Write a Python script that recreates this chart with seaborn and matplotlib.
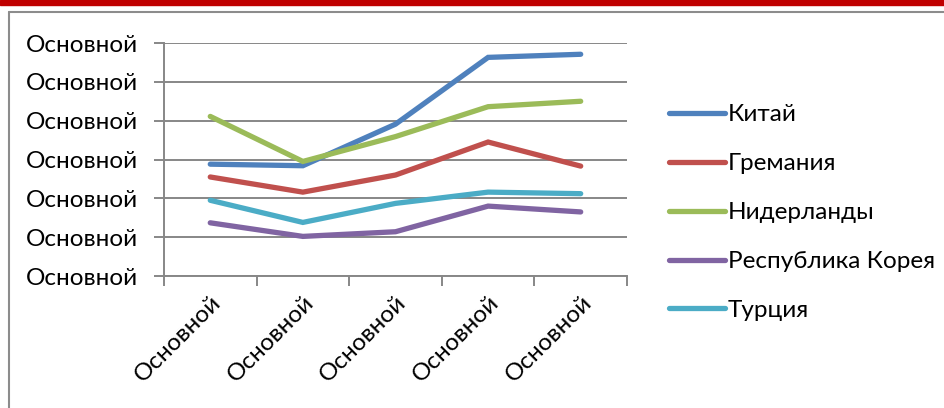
import matplotlib
matplotlib.use("Agg")
import matplotlib.pyplot as plt
import matplotlib.ticker as mticker
from matplotlib.lines import Line2D
from matplotlib.patches import Rectangle
import pandas as pd
import seaborn as sns

# categories on x (all the same label in the source picture)
periods = ["p1", "p2", "p3", "p4", "p5"]
x_label = "Основной"
y_ticks = [0, 1, 2, 3, 4, 5, 6]

countries = ["Китай", "Гремания", "Нидерланды", "Республика Корея", "Турция"]
china = [2.88, 2.84, 3.91, 5.63, 5.71]
germany = [2.55, 2.16, 2.60, 3.45, 2.83]
netherlands = [4.11, 2.95, 3.59, 4.36, 4.50]
korea = [1.37, 1.02, 1.14, 1.80, 1.65]
turkey = [1.95, 1.38, 1.87, 2.16, 2.12]

colors = ["#4F81BD", "#C0504D", "#9BBB59", "#8064A2", "#4BACC6"]

rows = []
for name, vals in zip(countries, [china, germany, netherlands, korea, turkey]):
    for p, v in zip(periods, vals):
        rows.append({"period": p, "value": v, "country": name})
df = pd.DataFrame(rows)

sns.set_style("white")
plt.rcParams["font.family"] = ["Lato", "DejaVu Sans"]
plt.rcParams["text.color"] = "black"
plt.rcParams["xtick.color"] = "black"
plt.rcParams["ytick.color"] = "black"
fs = 17.5

fig = plt.figure(figsize=(9.45, 4.08), dpi=100)
ax = fig.add_axes([0.1735, 0.3235, 0.49, 0.5711])

sns.lineplot(data=df, x="period", y="value", hue="country", hue_order=countries,
             palette=colors, linewidth=3.8, ax=ax, sort=False, legend=True)
for ln in ax.lines:
    ln.set_solid_capstyle("round")
    ln.set_solid_joinstyle("miter")

ax.set_xlim(-0.5, 4.5)
ax.set_ylim(0, 6)
grid_c = "#878787"

# y axis
ax.set_yticks(y_ticks)
ax.set_yticklabels([x_label] * len(y_ticks))
ax.yaxis.grid(True, color=grid_c, linewidth=1.4)
ax.tick_params(axis="y", length=7, width=1.4, color=grid_c, labelcolor="black",
               labelsize=fs, pad=12)

# x axis: ticks at bin edges, labels centred
ax.xaxis.set_major_locator(mticker.FixedLocator([i - 0.5 for i in range(len(periods) + 1)]))
ax.xaxis.set_major_formatter(mticker.NullFormatter())
ax.xaxis.set_minor_locator(mticker.FixedLocator(range(len(periods))))
ax.xaxis.set_minor_formatter(mticker.FixedFormatter([x_label] * len(periods)))
ax.tick_params(axis="x", which="major", length=7, width=1.4, color=grid_c, direction="out")
ax.tick_params(axis="x", which="minor", length=0, labelsize=fs, labelcolor="black", pad=11)
ax.tick_params(axis="both", bottom=True, left=True)
for lab in ax.xaxis.get_minorticklabels():
    lab.set_rotation(45)
    lab.set_ha("right")
    lab.set_rotation_mode("anchor")

for side in ["top", "right"]:
    ax.spines[side].set_visible(False)
for side in ["left", "bottom"]:
    ax.spines[side].set_color(grid_c)
    ax.spines[side].set_linewidth(1.4)
ax.set_xlabel("")
ax.set_ylabel("")

handles, labels = ax.get_legend_handles_labels()
ax.legend(handles, labels, loc="center left", bbox_to_anchor=(0.695, 0.479),
          bbox_transform=fig.transFigure,
          frameon=False, fontsize=fs, handlelength=2.3, handletextpad=0.12,
          labelspacing=1.15, borderpad=0)
for h in ax.get_legend().get_lines():
    h.set_linewidth(3.8)
    h.set_solid_capstyle("round")

# outer decoration: red bar and gray frame
fig.patches.append(Rectangle((0, 0.9877), 1, 0.0123, transform=fig.transFigure,
                             color="#C00000", zorder=5))
fig.lines.append(Line2D([0.0095, 1], [0.9706, 0.9706], transform=fig.transFigure,
                        color="#8C8C8C", linewidth=1.5))
fig.lines.append(Line2D([0.0095, 0.0095], [0, 0.9706], transform=fig.transFigure,
                        color="#8C8C8C", linewidth=1.5))

fig.savefig("out.png", dpi=100)
